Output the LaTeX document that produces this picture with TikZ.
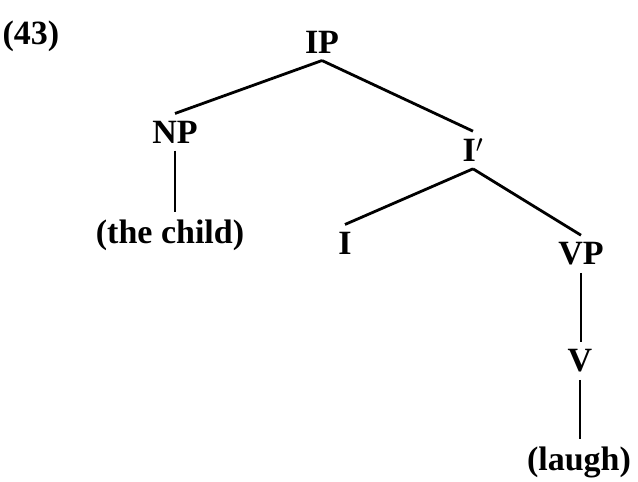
\documentclass[tikz,border=0pt]{standalone}
\usepackage{fontspec}
\setmainfont{Liberation Serif}
\begin{document}
\begin{tikzpicture}
  [x=1pt,y=-1pt,line width=2.8pt,every node/.style={font=\fontsize{34}{38}\selectfont\bfseries,inner sep=6pt}]
  \useasboundingbox (0,0) rectangle (638,482);
  \node (ex) at (31,36) {(43)};
  \node (ip) at (322,42) {IP};
  \node (np) at (175,132) {NP};
  \node (ibar) at (473,150) {I$'$};
  \node (child) at (170,235) {(the child)};
  \node (i) at (345,243) {I};
  \node (vp) at (581,254) {VP};
  \node (v) at (580,361) {V};
  \node (laugh) at (579,462) {(laugh)};

  \foreach \from/\to in {ip/np,ip/ibar,ibar/i,ibar/vp}
    \draw (\from.south) -- (\to.north);
  \foreach \from/\to in {np/child,vp/v,v/laugh}
    \draw (\from.south) -- (\from.south |- \to.north);
\end{tikzpicture}
\end{document}
